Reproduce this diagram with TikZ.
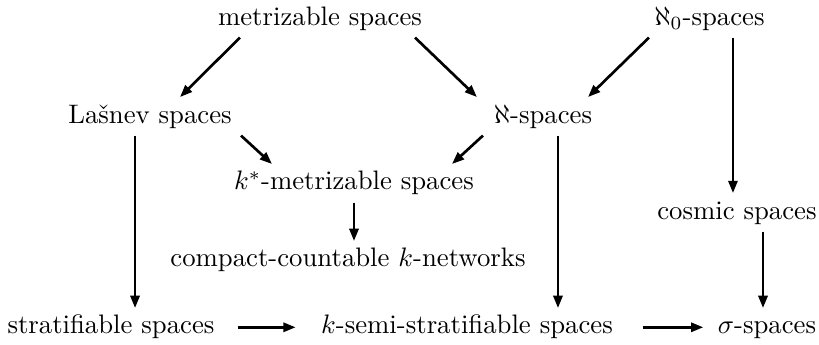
\documentclass[tikz,border=0pt]{standalone}
\usepackage{amsmath}
\usepackage{amssymb}
\usepackage{tikz}
\usetikzlibrary{arrows.meta,calc}

\begin{document}
\begin{tikzpicture}[
		space/.style={anchor=base,inner sep=2.5pt,text height=7pt,text depth=2pt},
		imp/.style={line width=1pt,-{Triangle[length=4.6pt,width=3.4pt]}},
		]
		\useasboundingbox (0,0) rectangle (10.765,-4.522);

		\node[space](metriz)  at (4.206,-0.329) {metrizable spaces};
		\node[space](alephz)  at (9.325,-0.329) {$\aleph_0$-spaces};
		\node[space](lasnev)  at (1.972,-1.617) {La\v{s}nev spaces};
		\node[space](aleph)   at (7.137,-1.617) {$\aleph$-spaces};
		\node[space](kstar)   at (4.653,-2.497) {$k^*$-metrizable spaces};
		\node[space](cosmic)  at (9.687,-2.879) {cosmic spaces};
		\node[space](compact) at (4.574,-3.509) {compact-countable $k$-networks};
		\node[space](strat)   at (1.459,-4.390) {stratifiable spaces};
		\node[space](ksemi)   at (6.138,-4.390) {$k$-semi-stratifiable spaces};
		\node[space](sigma)   at (10.081,-4.390) {$\sigma$-spaces};

		\draw[imp] ([xshift=-1.052cm]metriz.south) -- ([xshift=0.394cm]lasnev.north);
		\draw[imp] ([xshift=1.249cm]metriz.south)  -- ([xshift=-0.868cm]aleph.north);
		\draw[imp] ([xshift=-0.795cm]alephz.south) -- ([xshift=0.592cm]aleph.north);
		\draw[imp] ([xshift=0.309cm]alephz.south) coordinate (a0) -- (a0 |- cosmic.north);
		\draw[imp] ([xshift=-0.197cm]lasnev.south) coordinate (l0) -- (l0 |- strat.north);
		\draw[imp] ([xshift=1.196cm]lasnev.south)  -- ([xshift=-1.078cm]kstar.north);
		\draw[imp] ([xshift=-0.789cm]aleph.south)  -- ([xshift=1.288cm]kstar.north);
		\draw[imp] ([xshift=0.197cm]aleph.south) coordinate (a1) -- (a1 |- ksemi.north);
		\draw[imp] (kstar.south) coordinate (k0) -- (k0 |- compact.north);
		\draw[imp] ([xshift=0.342cm]cosmic.south) coordinate (c0) -- (c0 |- sigma.north);
		\draw[imp] ([xshift=0.214cm]strat.east)  -- ([xshift=-0.24cm]ksemi.west);
		\draw[imp] ([xshift=0.306cm]ksemi.east)  -- ([xshift=-0.096cm]sigma.west);
\end{tikzpicture}
\end{document}
